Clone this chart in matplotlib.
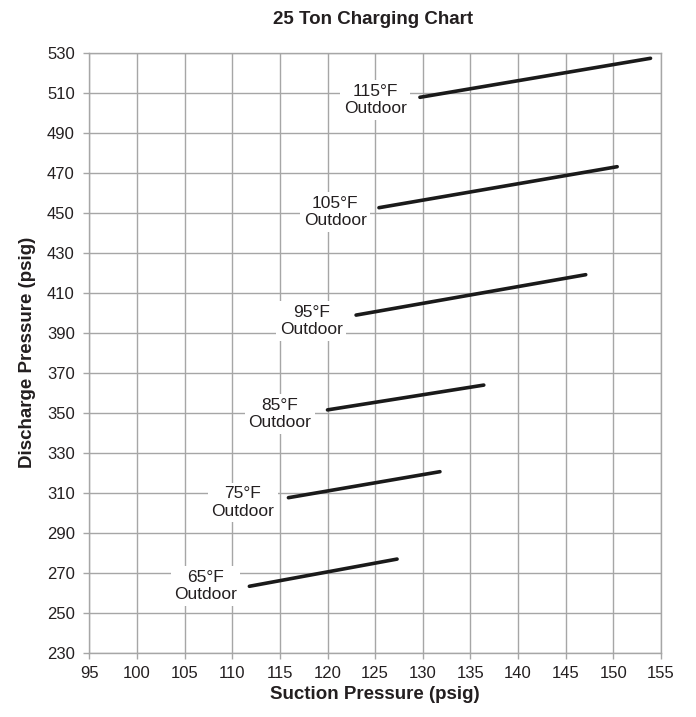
import matplotlib
matplotlib.use("Agg")
import matplotlib.pyplot as plt

plt.rcParams['font.family'] = ['Liberation Sans', 'DejaVu Sans']

# Data: charging lines (suction start/end, discharge start/end)
temps = ["115°F", "105°F", "95°F", "85°F", "75°F", "65°F"]
suction_start = [129.7, 125.4, 123.0, 120.0, 115.9, 111.8]
suction_end = [153.9, 150.4, 147.1, 136.4, 131.8, 127.3]
discharge_start = [507.7, 452.5, 398.8, 351.4, 307.5, 263.2]
discharge_end = [527.2, 473.0, 419.0, 363.8, 320.5, 276.8]
label_x = [125.0, 120.8, 118.3, 115.0, 111.1, 107.2]
label_y = [506.3, 450.4, 395.8, 349.3, 305.1, 263.4]

x_ticks = list(range(95, 156, 5))
y_ticks = list(range(230, 531, 20))

grid_c = '#a6a6a6'
text_c = '#231f20'

fig = plt.figure(figsize=(6.96, 7.17), dpi=100)
ax = fig.add_axes([0.1283, 0.0897, 0.9497 - 0.1283, 0.9265 - 0.0897])
ax.set_xlim(95, 155)
ax.set_ylim(230, 530)
ax.set_xticks(x_ticks)
ax.set_yticks(y_ticks)
ax.grid(True, color=grid_c, linewidth=1.0, zorder=0)
ax.set_axisbelow(True)
for s in ax.spines.values():
    s.set_color(grid_c)
    s.set_linewidth(1.0)
ax.tick_params(axis='both', colors=grid_c, labelcolor=text_c, labelsize=12,
               length=4.5, width=1.0, direction='out')
ax.tick_params(axis='y', pad=6)
ax.tick_params(axis='x', pad=5)

for t, xs, xe, ys, ye, lx, ly in zip(temps, suction_start, suction_end,
                                     discharge_start, discharge_end, label_x, label_y):
    ax.plot([xs, xe], [ys, ye], color='#1a1a1a', linewidth=2.6,
            solid_capstyle='round', zorder=3)
    ax.text(lx, ly, f"{t}\nOutdoor", ha='center', va='center', fontsize=12.5,
            color=text_c, linespacing=1.2, zorder=4,
            bbox=dict(boxstyle='square,pad=0.2', facecolor='white', edgecolor='none'))

ax.set_xlabel("Suction Pressure (psig)", fontsize=13.5, fontweight='bold',
              color=text_c, labelpad=4)
ax.set_ylabel("Discharge Pressure (psig)", fontsize=13.5, fontweight='bold',
              color=text_c, labelpad=8)
fig.text(373 / 696, 1 - 19.5 / 717, "25 Ton Charging Chart", ha='center',
         va='center', fontsize=13.5, fontweight='bold', color=text_c)

fig.savefig("out.png", dpi=100, facecolor='white')
